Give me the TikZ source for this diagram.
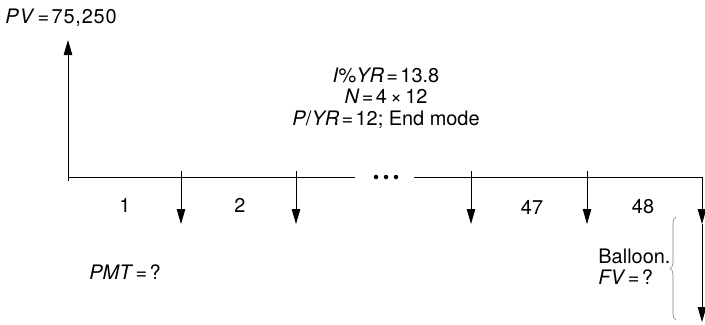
\documentclass[tikz,border=0pt]{standalone}
\usepackage{fontspec}
\setmainfont{TeX Gyre Heros}
\usetikzlibrary{arrows.meta,decorations.pathreplacing}
\newcommand{\eqs}{\hspace{0.12em}=\hspace{0.12em}}
\begin{document}
\begin{tikzpicture}[x=1bp,y=-1bp,
  line width=0.9bp,
  tip/.style={-{Triangle[length=15bp,width=8.5bp]}},
  lbl/.style={font=\fontsize{20}{21.5}\selectfont, inner sep=0pt},
  dotn/.style={circle,fill,inner sep=0pt,minimum size=4.5bp}]
\useasboundingbox (0,0) rectangle (705,324);
% coordinates
\coordinate (L0) at (68,181);
\coordinate (Lb) at (68,177);
\coordinate (PVtip) at (68,40);
\coordinate (S1e) at (355,177);
\coordinate (S2s) at (414,177);
\coordinate (Rc) at (702,177);
\coordinate (Rm) at (702,224);
\coordinate (Re) at (702,322);
\foreach \n/\x in {a/181,b/296,c/471,d/587}{
  \coordinate (\n t) at (\x,171);
  \coordinate (\n e) at (\x,224);
}
% lines
\draw[tip] (L0) -- (PVtip);
\draw (Lb) -- (S1e);
\draw (S2s) -- (Rc);
\draw[tip] (Rc) -- (Rm);
\draw[tip] (Rm) -- (Re);
\foreach \n in {a,b,c,d}{ \draw[tip] (\n t) -- (\n e); }
% dots
\node[dotn] (d1) at (376,177) {};
\node[dotn] (d2) at (386,177) {};
\node[dotn] (d3) at (396,177) {};
% labels
\node[lbl,anchor=west] (pv) at (5,18) {\addfontfeature{LetterSpace=4}\textit{PV}\eqs 75,250};
\node[lbl,align=center] (info) at (386,98) {\textit{I}\%\textit{YR}\eqs 13.8\\ \textit{N}\eqs 4\,×\,12\\ \textit{P}/\textit{YR}\eqs 12; End mode};
\node[lbl] (n1) at (125,205) {1};
\node[lbl] (n2) at (240,205) {2};
\node[lbl] (n47) at (532,207) {47};
\node[lbl] (n48) at (643,207) {48};
\node[lbl,anchor=west] (pmt) at (89,272) {\textit{PMT}\eqs ?};
\node[lbl,anchor=west,align=left] (bal) at (598,267) {Balloon.\\ \textit{FV}\eqs ?};
% brace
\coordinate (bt) at (676,217);
\coordinate (bb) at (676,320);
\draw[gray,line width=0.6bp,decorate,decoration={brace,amplitude=6bp}] (bb) -- (bt);
\end{tikzpicture}
\end{document}
